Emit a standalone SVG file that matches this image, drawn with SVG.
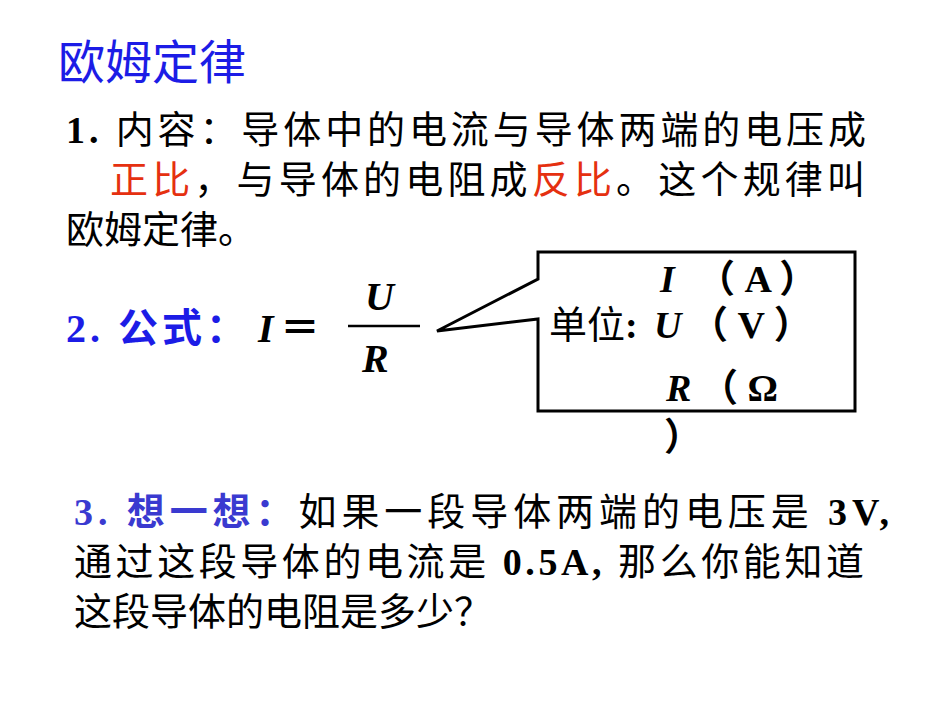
<svg xmlns="http://www.w3.org/2000/svg" width="950" height="713" viewBox="0 0 950 713">
<style>
text{font-family:"Liberation Serif","Noto Sans CJK SC",serif;font-size:38px;fill:#000}
.b{font-weight:bold}
.i{font-style:italic;font-weight:bold}
.blue{fill:#1c1ce6}
.red{fill:#e53010}
</style>
<rect width="950" height="713" fill="#fff"/>
<g id="title"><text x="58" y="79" class="blue" style="font-size:47px;font-family:'Noto Sans CJK SC',sans-serif">欧姆定律</text></g>
<g id="content">
<text x="66" y="143" textLength="800"><tspan class="b">1.</tspan> 内容：导体中的电流与导体两端的电压成</text>
<text x="110" y="193" textLength="755"><tspan class="red">正比</tspan>，与导体的电阻成<tspan class="red">反比</tspan>。这个规律叫</text>
<text x="66" y="243">欧姆定律。</text>
</g>
<g id="formula">
<text x="66" y="342" class="blue b" style="font-size:40px" textLength="180">2. 公式：</text>
<text x="258" y="342" class="i" style="font-size:40px">I</text>
<text x="280" y="342" class="b" style="font-size:40px">＝</text>
<text x="365" y="310" class="i" style="font-size:40px">U</text>
<line x1="348" y1="326" x2="420" y2="326" stroke="#000" stroke-width="2.5"/>
<text x="362" y="372" class="i" style="font-size:40px">R</text>
</g>
<g id="callout">
<path d="M538,279 L538,252 L855,252 L855,411 L538,411 L538,319 L437,331 Z" fill="#fff" stroke="#000" stroke-width="3"/>
<text x="549" y="338" style="font-size:38px">单位<tspan class="b">:</tspan></text>
<text x="660" y="292" class="i">I</text><text x="697" y="292" class="b">（ A ）</text>
<text x="654" y="338" class="i">U</text><text x="690" y="338" class="b">（ V ）</text>
<text x="666" y="401" class="i">R</text><text x="700" y="401" class="b">（ Ω</text>
<text x="664" y="450" class="b">）</text>
</g>
<g id="question">
<text x="74" y="525" textLength="815"><tspan class="b" style="fill:#3a3ad0">3. 想一想：</tspan>如果一段导体两端的电压是 <tspan class="b">3V,</tspan></text>
<text x="74" y="575" textLength="790">通过这段导体的电流是 <tspan class="b">0.5A,</tspan> 那么你能知道</text>
<text x="74" y="625">这段导体的电阻是多少？</text>
</g>
</svg>
